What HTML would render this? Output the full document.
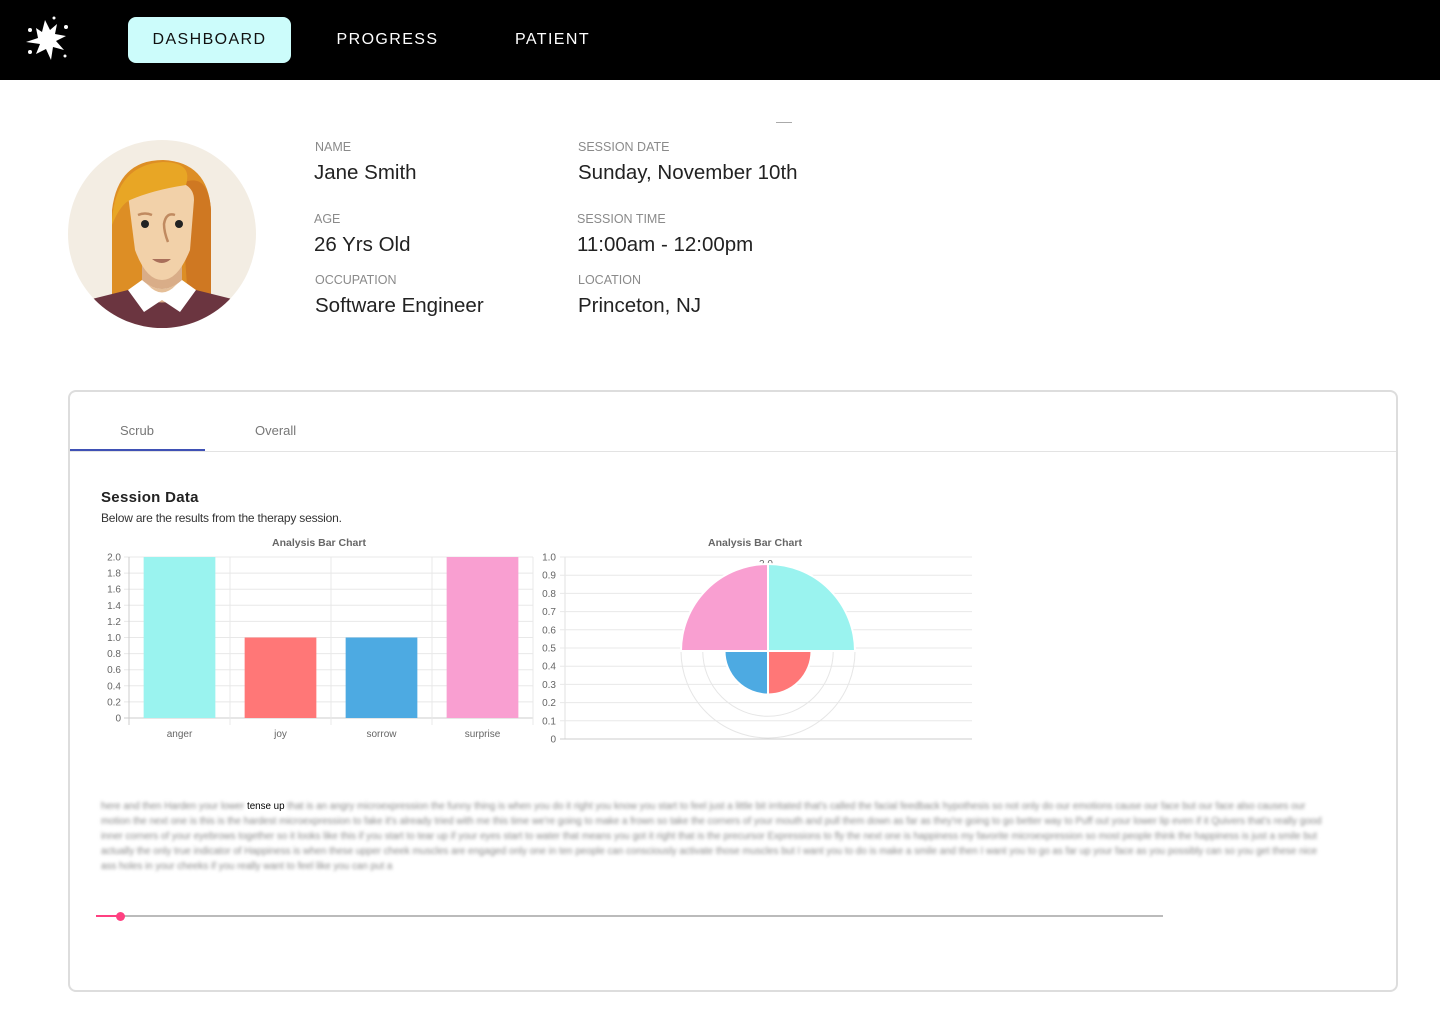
<!DOCTYPE html>
<html><head><meta charset="utf-8">
<style>
*{margin:0;padding:0;box-sizing:border-box}
body{width:1440px;height:1025px;background:#fff;font-family:"Liberation Sans",sans-serif;position:relative;overflow:hidden}
.nav{position:absolute;left:0;top:0;width:1440px;height:80px;background:#000}
.navbtn{position:absolute;top:17px;height:46px;line-height:46px;font-size:16px;letter-spacing:1.4px;color:#fff;text-align:center}
.lbl{position:absolute;font-size:12.5px;color:#8a8a8a}
.val{position:absolute;font-size:20.5px;color:#222}
.card{position:absolute;left:68px;top:390px;width:1330px;height:602px;border:2px solid #ddd;border-radius:8px}
.tab{position:absolute;top:423px;font-size:13px;color:#777}
.blur{position:absolute;left:101px;top:799px;width:1225px;font-size:9.8px;line-height:15px;color:#888}
.blur span.b{filter:blur(1.6px)}
svg text{font-family:"Liberation Sans",sans-serif}
</style></head><body>
<div class="nav">
  <svg style="position:absolute;left:22px;top:14px" width="52" height="52" viewBox="0 0 52 52">
    <path d="M14 14 L20 18 L23 6 L28 16 L35 10 L33 20 L44 22 L34 27 L42 36 L31 33 L29 46 L24 35 L14 40 L18 30 L4 28 L16 24 Z" fill="#fff"/>
    <circle cx="8" cy="16" r="2" fill="#fff"/><circle cx="44" cy="13" r="2" fill="#fff"/><circle cx="8" cy="38" r="2" fill="#fff"/><circle cx="43" cy="42" r="1.5" fill="#fff"/><circle cx="32" cy="4" r="1.5" fill="#fff"/>
  </svg>
  <div class="navbtn" style="left:128px;width:163px;background:#ccfcfb;color:#111;border-radius:8px">DASHBOARD</div>
  <div class="navbtn" style="left:320px;width:135px">PROGRESS</div>
  <div class="navbtn" style="left:495px;width:115px">PATIENT</div>
</div>
<div style="position:absolute;left:776px;top:122px;width:16px;height:1px;background:#aaa"></div>
<svg style="position:absolute;left:68px;top:140px" width="188" height="188" viewBox="0 0 188 188">
  <defs><clipPath id="c"><circle cx="94" cy="94" r="94"/></clipPath></defs>
  <g clip-path="url(#c)">
  <rect width="188" height="188" fill="#f3ede3"/>
  <path d="M44 160 L44 70 Q50 20 95 20 Q140 22 143 70 L143 160 Z" fill="#dd8e25"/>
  <path d="M112 44 Q140 30 143 70 L143 160 L120 160 Z" fill="#cf7822"/>
  <rect x="74" y="120" width="40" height="45" fill="#d9ad88"/>
  <path d="M60 55 Q60 40 94 40 Q126 40 126 60 L122 110 Q110 140 94 140 Q78 140 67 110 Z" fill="#f2d1a9"/>
  <path d="M44 80 Q48 25 95 22 Q125 22 118 45 Q85 50 62 60 Q52 65 44 85 Z" fill="#e8a625"/>
  <circle cx="77" cy="84" r="4" fill="#222"/><circle cx="111" cy="84" r="4" fill="#222"/>
  <path d="M107 75 Q98 72 96 84 Q96 92 100 102" stroke="#c08a60" stroke-width="2.5" fill="none"/>
  <path d="M70 75 Q77 72 84 75" stroke="#c08a60" stroke-width="2.5" fill="none"/>
  <path d="M84 119 Q94 127 103 119 Z" fill="#a96f5a"/>
  <path d="M0 188 L0 165 L60 150 Q94 175 128 150 L188 165 L188 188 Z" fill="#6b3540"/>
  <path d="M60 150 L74 140 Q94 158 114 140 L128 150 L112 172 L94 160 L76 172 Z" fill="#fff"/>
  <path d="M74 140 Q94 158 114 140 L108 145 Q94 160 80 145 Z" fill="#e5bf98"/>
  </g>
</svg>
<div class="lbl" style="left:315px;top:140px">NAME</div>
<div class="val" style="left:314px;top:161px">Jane Smith</div>
<div class="lbl" style="left:314px;top:212px">AGE</div>
<div class="val" style="left:314px;top:233px">26 Yrs Old</div>
<div class="lbl" style="left:315px;top:273px">OCCUPATION</div>
<div class="val" style="left:315px;top:294px">Software Engineer</div>
<div class="lbl" style="left:578px;top:140px">SESSION DATE</div>
<div class="val" style="left:578px;top:161px">Sunday, November 10th</div>
<div class="lbl" style="left:577px;top:212px">SESSION TIME</div>
<div class="val" style="left:577px;top:233px">11:00am - 12:00pm</div>
<div class="lbl" style="left:578px;top:273px">LOCATION</div>
<div class="val" style="left:578px;top:294px">Princeton, NJ</div>

<div class="card"></div>
<div class="tab" style="left:120px">Scrub</div>
<div class="tab" style="left:255px">Overall</div>
<div style="position:absolute;left:70px;top:451px;width:1326px;height:1px;background:#e3e3e3"></div>
<div style="position:absolute;left:70px;top:449px;width:135px;height:2px;background:#3f51b5"></div>
<div style="position:absolute;left:101px;top:489px;font-size:15px;font-weight:bold;color:#222;letter-spacing:0.3px">Session Data</div>
<div style="position:absolute;left:101px;top:511px;font-size:12px;color:#333;letter-spacing:-0.2px">Below are the results from the therapy session.</div>

<svg id="charts" style="position:absolute;left:0;top:0" width="1440" height="1025"></svg>

<div class="blur"><span class="b">here and then Harden your lower </span><span style="color:#000">tense up</span><span class="b"> that is an angry microexpression the funny thing is when you do it right you know you start to feel just a little bit irritated that's called the facial feedback hypothesis so not only do our emotions cause our face but our face also causes our motion the next one is this is the hardest microexpression to fake it's already tried with me this time we're going to make a frown so take the corners of your mouth and pull them down as far as they're going to go better way to Puff out your lower lip even if it Quivers that's really good inner corners of your eyebrows together so it looks like this if you start to tear up if your eyes start to water that means you got it right that is the precursor Expressions to fly the next one is happiness my favorite microexpression so most people think the happiness is just a smile but actually the only true indicator of Happiness is when these upper cheek muscles are engaged only one in ten people can consciously activate those muscles but I want you to do is make a smile and then I want you to go as far up your face as you possibly can so you get these nice ass holes in your cheeks if you really want to feel like you can put a</span></div>

<div style="position:absolute;left:96px;top:915px;width:1067px;height:2px;background:#bbb"></div>
<div style="position:absolute;left:96px;top:915px;width:24px;height:2px;background:#ff4081"></div>
<div style="position:absolute;left:116px;top:912px;width:9px;height:9px;border-radius:50%;background:#ff4081"></div>

<script>
const categories=["anger","joy","sorrow","surprise"];
const values=[2,1,1,2];
const colors=["#9af3ef","#ff7777","#4daae2","#f99fd1"];
const barTicks=["0","0.2","0.4","0.6","0.8","1.0","1.2","1.4","1.6","1.8","2.0"];
const rightTicks=["0","0.1","0.2","0.3","0.4","0.5","0.6","0.7","0.8","0.9","1.0"];
const polarRings=[1.5,2.0];
const NS="http://www.w3.org/2000/svg";
const svg=document.getElementById('charts');
function el(t,a,txt){const e=document.createElementNS(NS,t);for(const k in a)e.setAttribute(k,a[k]);if(txt!=null)e.textContent=txt;svg.appendChild(e);return e;}
const bx0=129,bx1=533,by0=718,by1=557,bmax=2;
const yS=v=>by0-(v/bmax)*(by0-by1);
const band=(bx1-bx0)/categories.length;
let t=el('text',{x:319,y:546,'font-size':10.5,'font-weight':'bold',fill:'#666','text-anchor':'middle'},'Analysis Bar Chart');

barTicks.forEach((s,i)=>{const v=i*0.2,y=yS(v);
 let g=el('line',{x1:bx0-5,x2:bx1,y1:y,y2:y,stroke:i==0?'#ccc':'#e8e8e8'});
 let tx=el('text',{x:bx0-8,y:y+3.5,'font-size':10,fill:'#666','text-anchor':'end'},s);});
for(let i=0;i<=categories.length;i++){const x=bx0+i*band;let l=el('line',{x1:x,x2:x,y1:by1,y2:by0+7,stroke:i==0?'#ccc':'#e8e8e8'});}
categories.forEach((c,i)=>{const x=bx0+i*band+band*0.145,w=band*0.71;
 let r=el('rect',{x:x,y:yS(values[i]),width:w,height:by0-yS(values[i]),fill:colors[i]});
 
 let tx=el('text',{x:bx0+i*band+band/2,y:737,'font-size':10,fill:'#666','text-anchor':'middle'},c);
 });
const rx0=565,rx1=972,ry0=739,ry1=557;
t=el('text',{x:755,y:546,'font-size':10.5,'font-weight':'bold',fill:'#666','text-anchor':'middle'},'Analysis Bar Chart');

let ax=el('line',{x1:rx0,x2:rx0,y1:ry1,y2:ry0,stroke:'#e0e0e0'});
rightTicks.forEach((s,i)=>{const y=ry0-(i/10)*(ry0-ry1);
 let g=el('line',{x1:rx0-5,x2:rx1,y1:y,y2:y,stroke:i==0?'#ccc':'#e8e8e8'});
 let tx=el('text',{x:556,y:y+3.5,'font-size':10,fill:'#666','text-anchor':'end'},s);});
const cx=768,cy=651,R=87,pmax=2;
const rS=v=>v/pmax*R;
polarRings.forEach(v=>{let c=el('circle',{cx:cx,cy:cy,r:rS(v),fill:'none',stroke:'#e6e6e6'});});
let lt=el('text',{x:cx-2,y:cy-R+3,'font-size':10,fill:'#666','text-anchor':'middle'},'2.0');
categories.forEach((c,i)=>{const a0=-Math.PI/2+i*Math.PI/2,a1=a0+Math.PI/2,r=rS(values[i]);
 const d=`M${cx},${cy} L${cx+r*Math.cos(a0)},${cy+r*Math.sin(a0)} A${r},${r} 0 0 1 ${cx+r*Math.cos(a1)},${cy+r*Math.sin(a1)} Z`;
 let p=el('path',{d:d,fill:colors[i],stroke:'#fff','stroke-width':2});
 });
</script>
</body></html>
